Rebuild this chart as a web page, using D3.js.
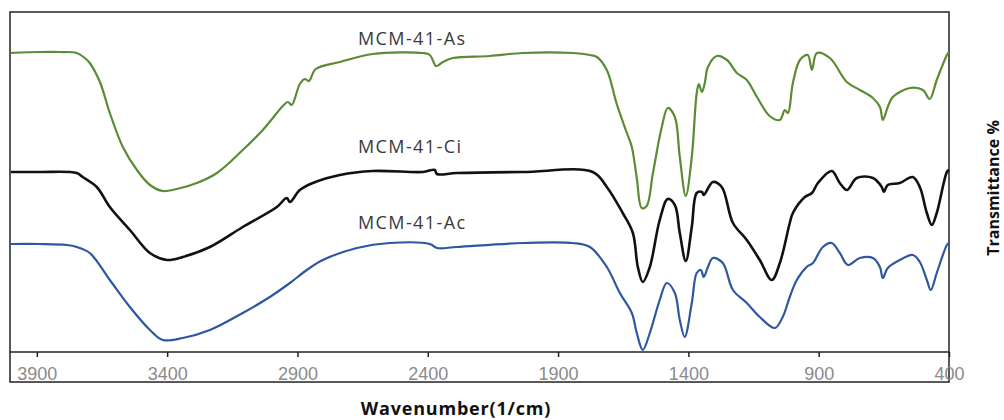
<!DOCTYPE html>
<html>
<head>
<meta charset="utf-8">
<script src="https://cdn.jsdelivr.net/npm/d3@7"></script>
<style>
  body { margin: 0; background: #fff; }
</style>
</head>
<body>
<script>
// FTIR spectra, wavenumber (1/cm) vs offset transmittance (a.u.)
const xTicks = [3900, 3400, 2900, 2400, 1900, 1400, 900, 400];

const asWave = [4000, 3888, 3812, 3747, 3716, 3697, 3658, 3620, 3570, 3516, 3466, 3417, 3363, 3286, 3209, 3110, 3033, 2956, 2937, 2922, 2891, 2872, 2856, 2830, 2737, 2611, 2419, 2392, 2369, 2358, 2342, 2304, 2162, 2035, 1843, 1778, 1751, 1713, 1675, 1636, 1617, 1598, 1579, 1560, 1536, 1502, 1479, 1452, 1433, 1410, 1387, 1368, 1360, 1348, 1337, 1325, 1291, 1252, 1214, 1176, 1137, 1088, 1049, 1030, 1018, 999, 972, 942, 926, 907, 857, 792, 742, 692, 665, 654, 635, 616, 550, 500, 474, 447, 408, 400];
const asVal = [299, 300, 300, 299, 294, 289, 270, 239, 205, 182, 167, 161, 163, 169, 179, 202, 222, 246, 250, 247, 268, 273, 271, 283, 290, 298, 299, 297, 286, 287, 290, 294, 296, 299, 299, 297, 295, 282, 248, 219, 205, 174, 144, 146, 179, 225, 244, 235, 195, 156, 195, 259, 268, 260, 269, 285, 296, 292, 279, 272, 255, 236, 232, 242, 239, 269, 292, 297, 282, 299, 294, 270, 262, 254, 245, 232, 245, 255, 264, 262, 253, 272, 297, 300];

const ciWave = [4000, 3888, 3747, 3724, 3670, 3620, 3543, 3466, 3401, 3340, 3236, 3110, 2979, 2941, 2929, 2891, 2841, 2737, 2611, 2419, 2373, 2365, 2289, 2035, 1767, 1713, 1652, 1613, 1594, 1575, 1548, 1510, 1479, 1452, 1433, 1410, 1387, 1368, 1348, 1341, 1306, 1272, 1229, 1176, 1126, 1080, 1049, 1011, 999, 953, 926, 903, 850, 819, 792, 754, 692, 658, 650, 635, 589, 539, 512, 485, 466, 447, 408, 400];
const ciVal = [180, 180, 179, 175, 165, 145, 122, 99, 92, 95, 105, 125, 145, 154, 150, 162, 169, 177, 181, 180, 182, 178, 179, 180, 180, 165, 139, 119, 85, 70, 85, 132, 153, 147, 119, 91, 125, 159, 160, 157, 170, 165, 129, 112, 92, 72, 89, 129, 139, 155, 159, 169, 181, 169, 162, 174, 174, 165, 160, 167, 169, 175, 165, 139, 127, 139, 180, 182];

const acWave = [4000, 3888, 3785, 3747, 3697, 3620, 3543, 3466, 3417, 3340, 3236, 3110, 3006, 2929, 2864, 2803, 2672, 2546, 2392, 2365, 2289, 2035, 1843, 1778, 1713, 1663, 1617, 1598, 1575, 1548, 1510, 1483, 1452, 1433, 1414, 1387, 1368, 1352, 1341, 1325, 1306, 1268, 1229, 1176, 1126, 1068, 1038, 1011, 984, 946, 922, 884, 850, 819, 788, 742, 692, 665, 654, 635, 589, 539, 512, 485, 470, 447, 408, 400];
const acVal = [108, 108, 107, 105, 99, 72, 45, 22, 12, 14, 22, 39, 55, 69, 82, 92, 104, 109, 108, 104, 105, 109, 109, 105, 85, 59, 39, 19, 2, 19, 52, 69, 59, 32, 15, 49, 79, 82, 75, 85, 94, 89, 62, 49, 35, 24, 35, 55, 72, 85, 89, 105, 109, 99, 87, 94, 94, 85, 74, 84, 92, 97, 90, 72, 62, 79, 107, 109];

const seriesNames = ["MCM-41-As", "MCM-41-Ci", "MCM-41-Ac"];
const seriesColors = ["#5b8c35", "#111111", "#2f57a0"];

const width = 1004, height = 420;
const plotLeft = 10, plotRight = 949, plotTop = 12, axisY = 352, frameBottom = 382;

const svg = d3.select("body").append("svg")
  .attr("width", width)
  .attr("height", height)
  .style("font-family", "'Open Sans', sans-serif");

const x = d3.scaleLinear().domain([4003, 400]).range([plotLeft, plotRight]);
const y = d3.scaleLinear().domain([0, 340]).range([axisY, plotTop]);

// outer frame and axis line
svg.append("rect")
  .attr("x", plotLeft).attr("y", plotTop)
  .attr("width", plotRight - plotLeft).attr("height", frameBottom - plotTop)
  .attr("fill", "none").attr("stroke", "#222").attr("stroke-width", 1.5);

svg.append("line")
  .attr("x1", plotLeft).attr("x2", plotRight)
  .attr("y1", axisY).attr("y2", axisY)
  .attr("stroke", "#222").attr("stroke-width", 1.5);

const xAxis = svg.append("g")
  .attr("transform", `translate(0,${axisY})`)
  .call(d3.axisBottom(x).tickValues(xTicks).tickSize(5).tickPadding(10).tickFormat(d3.format("d")));
xAxis.select(".domain").remove();
xAxis.selectAll("line").attr("stroke", "#222").attr("stroke-width", 1.5);
xAxis.selectAll("text")
  .attr("fill", "#8a8a8a")
  .style("font-size", "18px")
  .style("font-family", "'Liberation Sans', sans-serif");

const line = d3.line()
  .x(d => x(d[0]))
  .y(d => y(d[1]))
  .curve(d3.curveCatmullRom.alpha(0.5));

const series = [
  d3.zip(asWave, asVal),
  d3.zip(ciWave, ciVal),
  d3.zip(acWave, acVal)
];
const widths = [2.2, 2.6, 2.2];

series.forEach((s, i) => {
  svg.append("path")
    .datum(s)
    .attr("fill", "none")
    .attr("stroke", seriesColors[i])
    .attr("stroke-width", widths[i])
    .attr("stroke-linejoin", "round")
    .attr("d", line);
});

// series labels
const labelY = [45, 153, 229];
seriesNames.forEach((n, i) => {
  svg.append("text")
    .attr("x", 358)
    .attr("y", labelY[i])
    .attr("fill", "#3a3a3a")
    .style("font-size", "18px")
    .style("letter-spacing", "1.4px")
    .text(n);
});

svg.append("text")
  .attr("x", 456)
  .attr("y", 415)
  .attr("text-anchor", "middle")
  .attr("fill", "#111")
  .style("font-size", "18px")
  .style("font-weight", "bold")
  .style("letter-spacing", "0.8px")
  .text("Wavenumber(1/cm)");

svg.append("text")
  .attr("transform", "translate(999,188) rotate(-90)")
  .attr("text-anchor", "middle")
  .attr("fill", "#111")
  .style("font-size", "16px")
  .style("font-weight", "bold")
  .text("Transmittance %");
</script>
</body>
</html>
